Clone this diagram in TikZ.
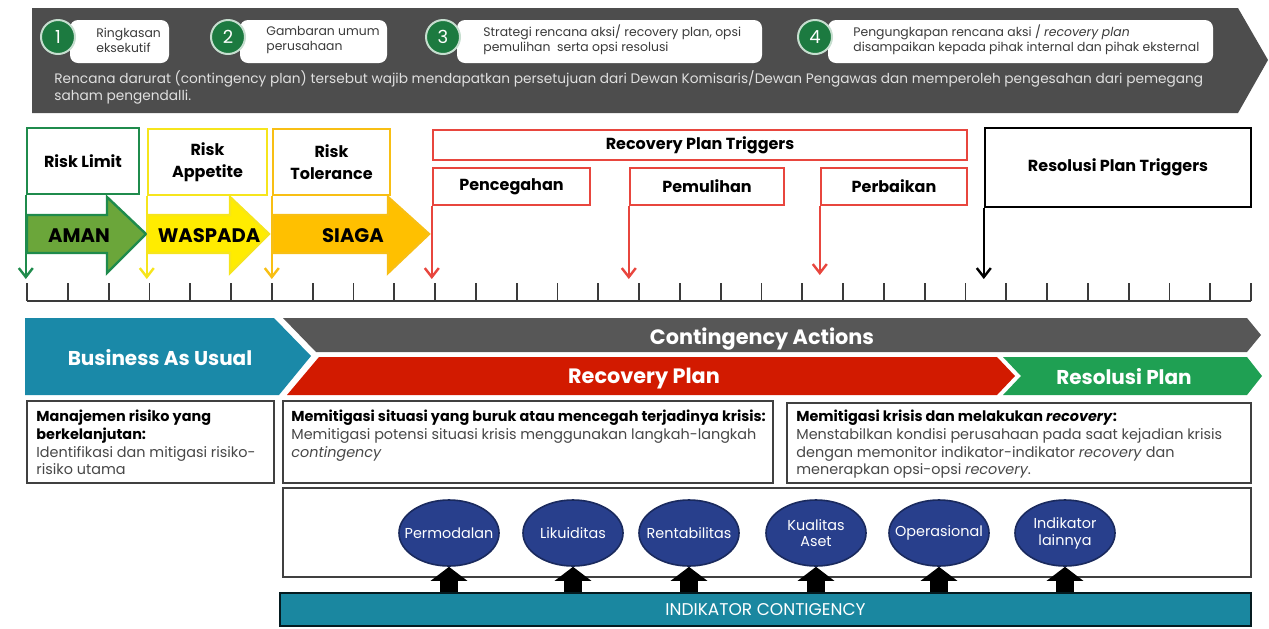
\documentclass[tikz,border=0pt]{standalone}
\usepackage{fontspec}
\setmainfont{Poppins}
\usetikzlibrary{arrows.meta,shapes.geometric}

\definecolor{bannergray}{HTML}{4D4D4D}
\definecolor{numgreen}{HTML}{1C7A40}
\definecolor{labeltext}{HTML}{3A3A3A}
\definecolor{notetext}{HTML}{E0E0E0}
\definecolor{limitgreen}{HTML}{1F8B4C}
\definecolor{amanfill}{HTML}{6BA63A}
\definecolor{appyellow}{HTML}{F6E51C}
\definecolor{waspfill}{HTML}{FFEC00}
\definecolor{tolorange}{HTML}{F8BF14}
\definecolor{siagafill}{HTML}{FFC000}
\definecolor{trigred}{HTML}{E8463E}
\definecolor{axisgray}{HTML}{3A3A3A}
\definecolor{bauteal}{HTML}{1A89A8}
\definecolor{actgray}{HTML}{575757}
\definecolor{recred}{HTML}{D21A00}
\definecolor{resgreen}{HTML}{1FA053}
\definecolor{boxline}{HTML}{404040}
\definecolor{bodytext}{HTML}{474747}
\definecolor{indnavy}{HTML}{283F8C}
\definecolor{indedge}{HTML}{1A2A5E}
\definecolor{barteal}{HTML}{1A87A0}

\tikzset{
  notebox/.style={fill=white, rounded corners=4pt, minimum height=21.5pt, inner sep=0pt},
  notetxt/.style={anchor=west, align=left, inner sep=0pt, text=labeltext,
    font=\fontsize{6.2}{7.6}\selectfont},
  numcirc/.style={circle, fill=numgreen, draw=white!75!numgreen, line width=1pt,
    minimum size=17pt, inner sep=0pt, text=white, font=\fontsize{9}{9}\selectfont},
  riskbox/.style={draw, fill=white, line width=1.2pt, minimum height=33pt, inner sep=0pt,
    align=center, font=\bfseries\fontsize{8}{11}\selectfont},
  trigbox/.style={draw=trigred, fill=white, line width=1.2pt, inner sep=0pt,
    font=\bfseries\fontsize{8}{10}\selectfont},
  zonetxt/.style={font=\bfseries\fontsize{9.8}{11}\selectfont, text=black, inner sep=0pt},
  trigarrow/.style={line width=1.2pt, -{Straight Barb[length=4.5pt,width=7pt]}},
  axisline/.style={draw=axisgray, line width=0.9pt},
  bandtxt/.style={text=white, font=\bfseries\fontsize{10}{12}\selectfont, inner sep=0pt},
  textbox/.style={draw=boxline, line width=0.9pt, fill=white, inner sep=0pt},
  bodytxt/.style={anchor=north west, align=left, inner sep=0pt, text=bodytext,
    font=\fontsize{7.2}{8.8}\selectfont},
  indic/.style={ellipse, fill=indnavy, draw=indedge, line width=0.8pt,
    minimum width=50pt, minimum height=33pt, inner sep=0pt,
    label={[text=white, align=center, inner sep=0pt,
            font=\fontsize{7.2}{8.4}\selectfont]center:#1}},
  blockup/.style={line width=9pt, black, -{Triangle[length=7pt,width=18pt]}}
}

\begin{document}
\begin{tikzpicture}[x=0.5pt, y=-0.5pt]
\useasboundingbox (0,0) rectangle (1269,628);

% ---------- banner with the four steps ----------
\fill[bannergray] (32,8) -- (1238,8) -- (1268,60) -- (1238,113) -- (32,113) -- cycle;

\node[notebox, minimum width=49.5pt]  (b1) at (119.5,41.5)  {};
\node[notebox, minimum width=73.5pt]  (b2) at (313.5,41.5)  {};
\node[notebox, minimum width=152.5pt] (b3) at (609.5,41.5)  {};
\node[notebox, minimum width=192.5pt] (b4) at (1020.5,41.5) {};

\node[notetxt] (t1) at (96,40)  {Ringkasan\\eksekutif};
\node[notetxt] (t2) at (266,40) {Gambaran umum\\perusahaan};
\node[notetxt] (t3) at (483,40) {Strategi rencana aksi/ recovery plan, opsi\\pemulihan\ \ serta opsi resolusi};
\node[notetxt] (t4) at (853,40) {Pengungkapan rencana aksi / \textit{recovery plan}\\disampaikan kepada pihak internal dan pihak eksternal};

\node[numcirc] (c1) at (58,37)  {1};
\node[numcirc] (c2) at (228,37) {2};
\node[numcirc] (c3) at (443,37) {3};
\node[numcirc] (c4) at (815,37) {4};

\node[anchor=west, align=left, inner sep=0pt, text=notetext,
      font=\fontsize{6.85}{8.6}\selectfont] (note) at (54,87)
  {Rencana darurat (contingency plan) tersebut wajib mendapatkan persetujuan dari Dewan Komisaris/Dewan Pengawas dan memperoleh pengesahan dari pemegang\\saham pengendalli.};

% ---------- risk thresholds ----------
\coordinate (tipy) at (0,279);

\node[riskbox, draw=limitgreen, minimum width=56pt]   (rl) at (83,161)    {Risk Limit};
\node[riskbox, draw=appyellow,  minimum width=59.5pt] (ra) at (207.5,162) {Risk\\Appetite};
\node[riskbox, draw=tolorange,  minimum width=58.5pt] (rt) at (331.5,162) {Risk\\Tolerance};

\draw[trigarrow, limitgreen] (rl.south west) -- (rl.south west |- tipy);
\draw[trigarrow, appyellow]  (ra.south west) -- (ra.south west |- tipy);
\draw[trigarrow, tolorange]  (rt.south west) -- (rt.south west |- tipy);

% zone arrows
\filldraw[fill=amanfill, draw=limitgreen, line width=1.2pt]
  (27,215) -- (107,215) -- (107,197) -- (146,234) -- (107,273) -- (107,253) -- (27,253) -- cycle;
\filldraw[fill=waspfill, draw=appyellow, line width=1.2pt]
  (148,215) -- (230,215) -- (230,197) -- (269,234) -- (230,273) -- (230,253) -- (148,253) -- cycle;
\filldraw[fill=siagafill, draw=tolorange, line width=1.2pt]
  (273,215) -- (388,215) -- (388,197) -- (429,234) -- (388,273) -- (388,253) -- (273,253) -- cycle;
\node[zonetxt] (aman)  at (79,236)  {AMAN};
\node[zonetxt] (wasp)  at (209,236) {WASPADA};
\node[zonetxt] (siaga) at (353,236) {SIAGA};

% ---------- triggers ----------
\node[trigbox, minimum width=267pt, minimum height=15pt]  (rpt) at (700,145)   {Recovery Plan Triggers};
\node[trigbox, minimum width=78.5pt, minimum height=18.5pt] (pc) at (511.5,186.5) {Pencegahan};
\node[trigbox, minimum width=77pt, minimum height=18.5pt]   (pm) at (707,186.5)   {Pemulihan};
\node[trigbox, minimum width=73pt, minimum height=18.5pt]   (pb) at (894,186.5)   {Perbaikan};
\node[draw=black, fill=white, line width=1.2pt, inner sep=0pt, minimum width=133pt,
      minimum height=39.5pt, font=\bfseries\fontsize{8}{10}\selectfont] (rst) at (1118,167.5) {Resolusi Plan Triggers};

\draw[trigarrow, trigred] (pc.south west) -- (pc.south west |- tipy);
\draw[trigarrow, trigred] (pm.south west) -- (pm.south west |- tipy);
\draw[trigarrow, trigred] (pb.south west) -- ([yshift=2pt]pb.south west |- tipy);
\draw[trigarrow, black]   (rst.south west) -- (rst.south west |- tipy);

% ---------- scale ----------
\coordinate (ax0) at (27,301);
\coordinate (ax1) at (1251,301);
\draw[axisline] (ax0) -- (ax1);
\foreach \k in {0,...,30} \draw[axisline] (27+40.8*\k,283) -- (27+40.8*\k,301);

% ---------- phase bands ----------
\fill[bauteal] (25,318) -- (274,318) -- (311,356) -- (279,395) -- (25,395) -- cycle;
\fill[actgray] (283,318) -- (1247,318) -- (1261,335) -- (1247,352) -- (316,352) -- cycle;
\fill[recred] (319,357) -- (997,357) -- (1015,376) -- (997,395) -- (287,395) -- cycle;
\fill[resgreen] (1003,357) -- (1247,357) -- (1262,376) -- (1247,395) -- (1003,395) -- (1021,376) -- cycle;

\node[bandtxt] (bau) at (160,358) {Business As Usual};
\node[bandtxt, font=\bfseries\fontsize{10.4}{12}\selectfont] (ca) at (762,339) {Contingency Actions};
\node[bandtxt, font=\bfseries\fontsize{10.4}{12}\selectfont] (rp) at (644,379) {Recovery Plan};
\node[bandtxt] (rsp) at (1124,377) {Resolusi Plan};

% ---------- descriptions ----------
\node[textbox, minimum width=123.5pt, minimum height=41pt] (da) at (150.5,442) {};
\node[textbox, minimum width=245pt,   minimum height=41pt] (db) at (528,442)   {};
\node[textbox, minimum width=232pt,   minimum height=40pt] (dc) at (1019,443)  {};

\node[bodytxt] (ta) at (36,410) {\textbf{\color{black}Manajemen risiko yang}\\\textbf{\color{black}berkelanjutan:}\\Identifikasi dan mitigasi risiko-\\risiko utama};
\node[bodytxt] (tb) at (291,410) {\textbf{\color{black}Memitigasi situasi yang buruk atau mencegah terjadinya krisis:}\\Memitigasi potensi situasi krisis menggunakan langkah-langkah\\\textit{contingency}};
\node[bodytxt] (tc) at (796,410) {\textbf{\color{black}Memitigasi krisis dan melakukan \textit{recovery}:}\\Menstabilkan kondisi perusahaan pada saat kejadian krisis\\dengan memonitor indikator-indikator \textit{recovery} dan\\menerapkan opsi-opsi \textit{recovery}.};

% ---------- indicators ----------
\node[textbox, minimum width=484pt, minimum height=44.5pt] (ind) at (767,532.5) {};
\node[draw=black!80!barteal, line width=0.9pt, fill=barteal, minimum width=485.5pt,
      minimum height=16.5pt, inner sep=0pt, text=white,
      font=\fontsize{8.5}{9}\selectfont] (bar) at (765.5,609.5) {INDIKATOR CONTIGENCY};

\node[indic={Permodalan}]        (i1) at (449,533)  {};
\node[indic={Likuiditas}]        (i2) at (573,533)  {};
\node[indic={Rentabilitas}]      (i3) at (689,533)  {};
\node[indic={Kualitas\\Aset}]    (i4) at (816,533)  {};
\node[indic={Operasional}]       (i5) at (939,533)  {};
\node[indic={Indikator\\lainnya}] (i6) at (1065,533) {};

\foreach \n in {i1,i2,i3,i4,i5,i6}
  \draw[blockup] (bar.north -| \n) -- (\n.south);
\end{tikzpicture}
\end{document}
